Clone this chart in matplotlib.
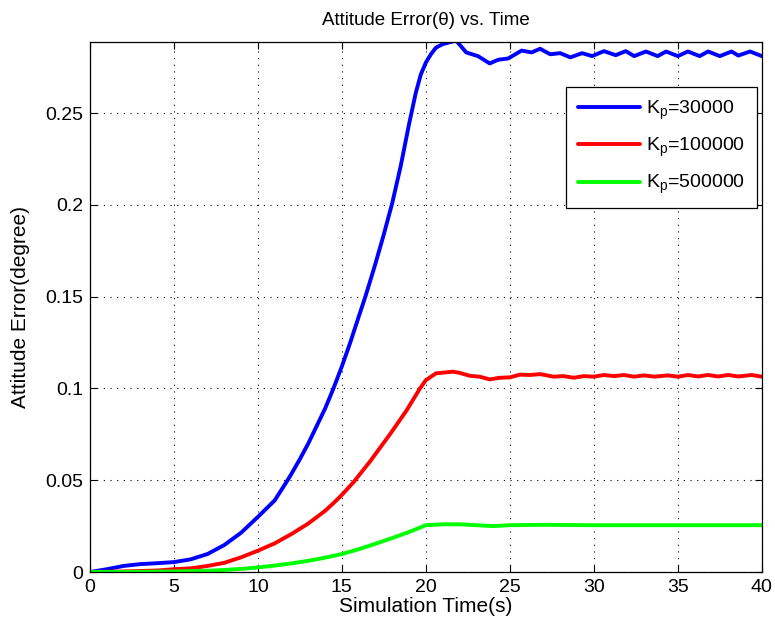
import matplotlib
matplotlib.use("Agg")
import matplotlib.pyplot as plt

plt.rcParams['font.family'] = ['Liberation Sans', 'DejaVu Sans']
plt.rcParams['mathtext.fontset'] = 'custom'
plt.rcParams['mathtext.rm'] = 'Liberation Sans'
plt.rcParams['mathtext.it'] = 'Liberation Sans'

t_blue = [0, 1, 2, 3, 4, 5, 6, 7, 8, 9, 10, 11, 11.7, 12, 12.5, 13, 13.5, 14, 14.5, 15, 15.5, 16,
          16.4, 17, 17.5, 18, 18.5, 19, 19.4, 19.7, 20, 20.3, 20.6, 21,
          21.8, 22.4, 23.1, 23.8, 24.3, 24.9, 25.7, 26.3, 26.8, 27.4, 28, 28.6, 29.3, 29.9, 30.6,
          31.3, 31.9, 32.4, 33.1, 33.8, 34.3, 35, 35.6, 36.3, 36.8, 37.5, 38.2, 38.6, 39.3, 40]
v_blue = [0, 0.0015, 0.0033, 0.0043, 0.0048, 0.0054, 0.0069, 0.0098, 0.0147, 0.0214, 0.030, 0.039,
          0.049, 0.0535, 0.0615, 0.070, 0.0795, 0.089, 0.100, 0.112, 0.125, 0.139,
          0.150, 0.168, 0.184, 0.201, 0.221, 0.244, 0.261, 0.271, 0.2775, 0.282, 0.2856, 0.2875,
          0.2895, 0.283, 0.281, 0.277, 0.279, 0.2797, 0.284, 0.283, 0.285, 0.282, 0.2826, 0.2803,
          0.2826, 0.281, 0.2837, 0.2815, 0.2837, 0.281, 0.2835, 0.281, 0.2835, 0.281, 0.2835,
          0.281, 0.2835, 0.281, 0.2835, 0.2813, 0.2835, 0.281]

t_red = [0, 2, 4, 5, 6, 7, 8, 9, 10, 11, 12, 13, 14, 14.5, 15, 15.7, 16.7, 17.9, 18.85, 19.65, 20,
         20.6, 21.6, 22, 22.6, 23.2, 23.8, 24.4, 25, 25.6, 26.2, 26.8, 27.6, 28.2, 28.8, 29.4,
         30, 30.6, 31.2, 31.8, 32.4, 33, 33.6, 34.4, 35, 35.6, 36.2, 36.8, 37.4, 38, 38.6, 39.4, 40]
v_red = [0, 0.0003, 0.0008, 0.0015, 0.002, 0.0033, 0.005, 0.008, 0.0116, 0.0156, 0.0207, 0.0264,
         0.0333, 0.0375, 0.042, 0.049, 0.0605, 0.0755, 0.088, 0.100, 0.1045,
         0.1082, 0.1091, 0.1085, 0.1069, 0.1064, 0.1049, 0.1058, 0.1060, 0.1075, 0.1073, 0.1078,
         0.1064, 0.1067, 0.1058, 0.1067, 0.1064, 0.1073, 0.1067, 0.1073, 0.1064, 0.1071, 0.1064,
         0.1071, 0.1064, 0.1073, 0.1065, 0.1073, 0.1065, 0.1073, 0.1065, 0.1073, 0.1064]

t_green = [0, 3, 5, 7, 8, 9, 10, 11, 12, 13, 14, 15, 16, 17, 18, 19, 20, 21, 22, 23, 24, 25, 27,
           30, 35, 40]
v_green = [0, 0.0001, 0.0003, 0.0007, 0.0011, 0.0017, 0.0025, 0.0035, 0.0047, 0.0061, 0.0078,
           0.0098, 0.0124, 0.0154, 0.0185, 0.0218, 0.0255, 0.026, 0.026, 0.0255, 0.025, 0.0255,
           0.0257, 0.0255, 0.0255, 0.0255]

labels = [r'K$_\mathrm{p}$=30000', r'K$_\mathrm{p}$=100000', r'K$_\mathrm{p}$=500000']
colors = ['#0000ff', '#ff0000', '#00ff00']
xticks = [0, 5, 10, 15, 20, 25, 30, 35, 40]
yticks = [0, 0.05, 0.1, 0.15, 0.2, 0.25]
ytick_labels = ['0', '0.05', '0.1', '0.15', '0.2', '0.25']

fig = plt.figure(figsize=(7.75, 6.29), dpi=100)
ax = fig.add_axes([0.116, 0.0906, 0.867, 0.8424])

for tt, vv, c, lab in zip([t_blue, t_red, t_green], [v_blue, v_red, v_green], colors, labels):
    ax.plot(tt, vv, color=c, lw=2.8, label=lab, solid_joinstyle='round', solid_capstyle='round')

ax.set_xlim(0, 40)
ax.set_ylim(0, 0.2886)
ax.set_xticks(xticks)
ax.set_xticklabels([str(x) for x in xticks])
ax.set_yticks(yticks)
ax.set_yticklabels(ytick_labels)
ax.tick_params(direction='in', top=True, right=True, labelsize=14, length=5, width=0.8, pad=5)
ax.grid(True, color='black', linestyle=(0, (1, 5)), linewidth=0.8)
for s in ax.spines.values():
    s.set_linewidth(0.9)

ax.set_title('Attitude Error(θ) vs. Time', fontsize=13.5, pad=12)
ax.set_xlabel('Simulation Time(s)', fontsize=15, labelpad=1)
ax.set_ylabel('Attitude Error(degree)', fontsize=15)
ax.yaxis.set_label_coords(-0.089, 0.5)

leg = ax.legend(loc='upper right', bbox_to_anchor=(0.9926, 0.915), fontsize=14, handlelength=3.2,
                fancybox=False, framealpha=1, edgecolor='black', borderpad=0.6, labelspacing=0.72,
                handletextpad=0.3, borderaxespad=0)
leg.get_frame().set_linewidth(0.9)

fig.savefig('out.png', dpi=100)
